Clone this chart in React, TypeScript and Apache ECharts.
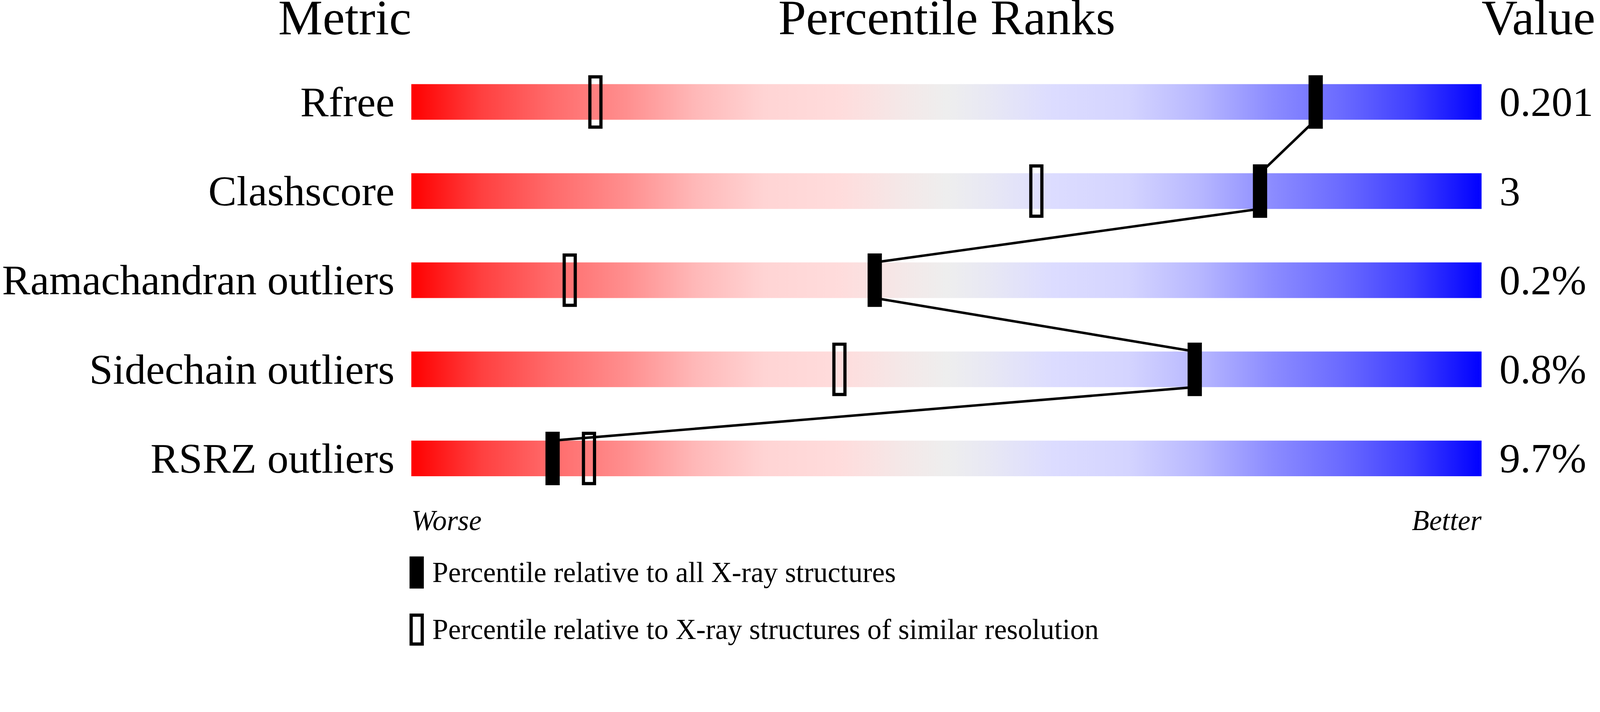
import React, { useEffect, useRef } from "react";
import * as echarts from "echarts";

// ---- data ----
const categories = ["Rfree", "Clashscore", "Ramachandran outliers", "Sidechain outliers", "RSRZ outliers"];
const valueLabels = ["0.201", "3", "0.2%", "0.8%", "9.7%"];
// percentile relative to all X-ray structures
const allPct = [84.5, 79.3, 43.3, 73.2, 13.2];
// percentile relative to X-ray structures of similar resolution
const simPct = [17.2, 58.4, 14.8, 40.0, 16.6];
// full-range slider track for every metric
const track = [100, 100, 100, 100, 100];

const LEG_ALL = "Percentile relative to all X-ray structures";
const LEG_SIM = "Percentile relative to X-ray structures of similar resolution";

const FONT = "'Liberation Serif', 'Times New Roman', Times, serif";
const REF_W = 4485;

const gradientStops = [
  { offset: 0, color: "#FF0000" },
  { offset: 0.066, color: "#FF4040" },
  { offset: 0.13, color: "#FF6A6A" },
  { offset: 0.2, color: "#FF8E8E" },
  { offset: 0.265, color: "#FFB8B8" },
  { offset: 0.33, color: "#FFD4D4" },
  { offset: 0.4, color: "#FFDCDC" },
  { offset: 0.46, color: "#F4E8E8" },
  { offset: 0.5, color: "#EEEEEE" },
  { offset: 0.54, color: "#E8E8F4" },
  { offset: 0.6, color: "#DCDCFF" },
  { offset: 0.67, color: "#D4D4FF" },
  { offset: 0.735, color: "#B8B8FF" },
  { offset: 0.8, color: "#8E8EFF" },
  { offset: 0.87, color: "#6A6AFF" },
  { offset: 0.934, color: "#4040FF" },
  { offset: 1, color: "#0000FF" },
];

function buildOption(s: number) {
  const p = (v: number) => v * s;
  const BAR_H = p(100);

  const headerText = (text: string, x: number, y: number, align: string, size: number, italic = false) => ({
    type: "text",
    x: p(x),
    y: p(y),
    z: 10,
    silent: true,
    style: {
      text,
      fill: "#000",
      fontSize: p(size),
      lineHeight: p(size * 0.66),
      fontFamily: FONT,
      fontStyle: italic ? "italic" : "normal",
      align,
      textAlign: align,
      verticalAlign: "middle",
      textVerticalAlign: "middle",
    },
  });

  return {
    animation: false,
    backgroundColor: "#FFFFFF",
    grid: { left: p(1153), top: p(161), width: p(3000), height: p(1250), containLabel: false },
    xAxis: { type: "value", min: 0, max: 100, show: false },
    yAxis: [
      {
        type: "category",
        data: categories,
        inverse: true,
        axisLine: { show: false },
        axisTick: { show: false },
        splitLine: { show: false },
        axisLabel: {
          margin: p(47),
          fontSize: p(119),
          lineHeight: p(80),
          fontFamily: FONT,
          color: "#000",
          padding: [p(22), 0, 0, 0],
        },
      },
      {
        type: "category",
        data: valueLabels,
        inverse: true,
        position: "right",
        axisLine: { show: false },
        axisTick: { show: false },
        splitLine: { show: false },
        axisLabel: {
          margin: p(50),
          fontSize: p(117),
          lineHeight: p(80),
          fontFamily: FONT,
          color: "#000",
          align: "left",
          padding: [p(22), 0, 0, 0],
        },
      },
    ],
    legend: {
      orient: "vertical",
      left: p(1148),
      top: p(1561),
      padding: 0,
      itemWidth: p(31),
      itemHeight: p(81),
      itemGap: p(70),
      selectedMode: false,
      textStyle: {
        fontSize: p(80),
        fontFamily: FONT,
        color: "#000",
        lineHeight: p(57),
        padding: [p(24), 0, 0, p(23)],
      },
      data: [
        { name: LEG_ALL, icon: "rect", itemStyle: { color: "#000", borderColor: "#000", borderWidth: p(9) } },
        { name: LEG_SIM, icon: "rect", itemStyle: { color: "rgba(0,0,0,0)", borderColor: "#000", borderWidth: p(9) } },
      ],
    },
    graphic: [
      headerText("Metric", 1153, 96 - 47.25, "right", 140),
      headerText("Percentile Ranks", 2654, 96 - 47.25, "center", 140),
      headerText("Value", 4153, 96 - 47.25, "left", 140),
      headerText("Worse", 1153, 1487 - 27, "left", 80, true),
      headerText("Better", 4153, 1487 - 27, "right", 80, true),
    ],
    series: [
      {
        type: "bar",
        name: "track",
        data: track,
        barWidth: BAR_H,
        silent: true,
        z: 1,
        itemStyle: {
          color: new echarts.graphic.LinearGradient(0, 0, 1, 0, gradientStops),
        },
      },
      {
        type: "custom",
        name: "link",
        silent: true,
        z: 2,
        data: allPct.map((v, i) => [v, i]),
        encode: { x: 0, y: 1 },
        renderItem: (params: any, api: any) => {
          const i = params.dataIndex;
          if (i >= allPct.length - 1) return null;
          const p0 = api.coord([allPct[i], i]);
          const p1 = api.coord([allPct[i + 1], i + 1]);
          const half = BAR_H / 2;
          return {
            type: "line",
            shape: { x1: p0[0], y1: p0[1] + half, x2: p1[0], y2: p1[1] - half },
            style: { stroke: "#000", lineWidth: p(7) },
          };
        },
      },
      {
        type: "custom",
        name: LEG_SIM,
        silent: true,
        z: 3,
        data: simPct.map((v, i) => [v, i]),
        encode: { x: 0, y: 1 },
        itemStyle: { color: "rgba(0,0,0,0)", borderColor: "#000", borderWidth: p(9) },
        renderItem: (params: any, api: any) => {
          const c = api.coord([api.value(0), api.value(1)]);
          const w = p(31);
          const h = p(141);
          return {
            type: "rect",
            shape: { x: c[0] - w / 2, y: c[1] - h / 2, width: w, height: h },
            style: { fill: "none", stroke: "#000", lineWidth: p(9) },
          };
        },
      },
      {
        type: "scatter",
        name: LEG_ALL,
        data: allPct.map((v, i) => [v, i]),
        symbol: "rect",
        symbolSize: [p(40), p(150)],
        silent: true,
        z: 4,
        itemStyle: { color: "#000", opacity: 1 },
      },
    ],
  };
}

export default function App() {
  const ref = useRef<HTMLDivElement>(null);

  useEffect(() => {
    const el = ref.current;
    if (!el) return;
    const W = el.clientWidth || window.innerWidth;
    const s = W / REF_W;
    const chart = echarts.init(el, null, { renderer: "svg" });
    chart.setOption(buildOption(s) as any);
    return () => chart.dispose();
  }, []);

  return (
    <div
      ref={ref}
      style={{ position: "fixed", left: 0, top: 0, width: "100vw", height: "100vh", background: "#fff" }}
    />
  );
}
